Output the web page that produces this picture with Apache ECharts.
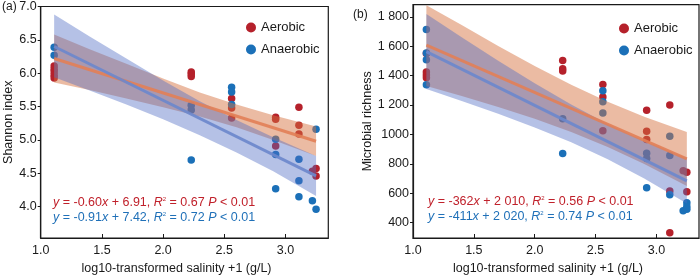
<!DOCTYPE html>
<html><head><meta charset="utf-8">
<script src="https://cdn.jsdelivr.net/npm/echarts@6/dist/echarts.min.js"></script>
<style>html,body{margin:0;padding:0;background:#fff}#c{width:700px;height:280px}</style>
</head><body><div id="c"></div>
<script>
// ---- tick labels ----
const xTicks = [1.0, 1.5, 2.0, 2.5, 3.0];
const shannonTicks = [4.0, 4.5, 5.0, 5.5, 6.0, 6.5, 7.0];
const richTicks = [400, 600, 800, 1000, 1200, 1400, 1600, 1800];
const richTickLabels = ['400', '600', '800', '1000', '1 200', '1 400', '1 600', '1 800'];
const seriesNames = ['Aerobic', 'Anaerobic'];

// ---- panel (a) Shannon index: points [salinity, value] ----
const shannonAerobic = [
  [1.11,6.11],[1.11,6.06],[1.11,6.02],[1.11,5.97],[1.11,5.93],
  [2.23,6.02],[2.23,5.99],[2.23,5.95],
  [2.56,5.62],[2.56,5.48],[2.56,5.33],
  [2.92,5.34],[2.92,5.31],[2.92,4.91],
  [3.11,5.49],[3.11,5.22],[3.11,5.09],
  [3.22,4.53],
  [3.25,4.57],[3.25,4.46]
];
const shannonAnaerobic = [
  [1.11,6.39],[1.11,6.27],
  [2.23,5.52],[2.23,5.45],[2.23,4.70],
  [2.56,5.79],[2.56,5.72],[2.56,5.53],
  [2.92,5.01],[2.92,4.78],[2.92,4.27],
  [3.11,4.71],[3.11,4.39],[3.11,4.15],
  [3.22,4.09],
  [3.25,5.16],[3.25,3.96]
];
const shannonAerobicFit = [[1.11,6.22],[3.25,4.98]];
const shannonAnaerobicFit = [[1.11,6.40],[3.25,4.46]];

// ---- panel (b) Microbial richness ----
const richAerobic = [
  [1.11,1550],[1.11,1425],[1.11,1405],[1.11,1385],
  [2.23,1504],[2.23,1447],[2.23,1431],
  [2.56,1340],[2.56,1255],[2.56,1025],
  [2.92,1164],[2.92,1021],[2.92,965],
  [3.11,1200],[3.11,615],[3.11,330],
  [3.22,752],
  [3.25,742],[3.25,610]
];
const richAnaerobic = [
  [1.11,1715],[1.11,1555],[1.11,1508],[1.11,1338],
  [2.23,1106],[2.23,870],
  [2.56,1298],[2.56,1222],[2.56,1145],
  [2.92,872],[2.92,836],[2.92,637],
  [3.11,988],[3.11,856],[3.11,590],
  [3.22,480],
  [3.25,535],[3.25,510],[3.25,490]
];
const richAerobicFit = [[1.11,1608],[3.25,833]];
const richAnaerobicFit = [[1.11,1564],[3.25,684]];

// ---- confidence bands ----
const bandX = [1.11, 1.4, 1.7, 2.0, 2.3, 2.6, 2.9, 3.25];
const shannonAerobicLo = [5.86,5.75,5.62,5.49,5.35,5.19,5.00,4.76];
const shannonAerobicHi = [6.58,6.36,6.14,5.92,5.71,5.53,5.37,5.20];
const shannonAnaerobicLo = [5.94,5.74,5.53,5.31,5.07,4.81,4.53,4.16];
const shannonAnaerobicHi = [6.88,6.55,6.22,5.89,5.58,5.30,5.04,4.76];
const richAerobicLo = [1330,1261,1186,1106,1016,915,799,649];
const richAerobicHi = [1880,1745,1602,1466,1338,1223,1121,1017];
const richAnaerobicLo = [1309,1228,1140,1047,947,831,700,529];
const richAnaerobicHi = [1819,1662,1502,1349,1203,1071,956,839];

// ---- styling ----
const FONT = "'Liberation Sans', Arial, Helvetica, sans-serif";
const RED = '#b5212b', BLUE = '#1b70b8';
const RED_TXT = '#c0212b', BLUE_TXT = '#1f70b8';
const ORANGE_BAND = 'rgba(214,112,62,0.48)', BLUE_BAND = 'rgba(78,108,196,0.42)';
const ORANGE_LINE = 'rgba(226,128,86,0.9)', BLUE_LINE = 'rgba(108,136,204,0.92)';

function bandSeries(name, xi, lo, hi, color) {
  const data = bandX.map((x, i) => [x, lo[i], hi[i]]);
  return {
    type: 'custom', name: name, xAxisIndex: xi, yAxisIndex: xi, z: 3, silent: true,
    encode: {x: 0, y: [1, 2]},
    data: data,
    renderItem: function (params, api) {
      if (params.dataIndex !== 0) return null;
      const pts = [];
      for (let i = 0; i < data.length; i++) pts.push(api.coord([data[i][0], data[i][2]]));
      for (let i = data.length - 1; i >= 0; i--) pts.push(api.coord([data[i][0], data[i][1]]));
      return {type: 'polygon', shape: {points: pts}, style: {fill: color}};
    }
  };
}
function scatterSeries(name, xi, data, color) {
  return {type: 'scatter', name: name, xAxisIndex: xi, yAxisIndex: xi, z: 2,
    symbolSize: 7.5, data: data, itemStyle: {color: color, opacity: 1}};
}
function fitSeries(name, xi, data, color) {
  return {type: 'line', name: name, xAxisIndex: xi, yAxisIndex: xi, z: 4,
    data: data, symbol: 'none', lineStyle: {color: color, width: 3}, silent: true};
}
function xAxisDef(gi) {
  return {
    type: 'value', gridIndex: gi, min: 1.0, max: 3.35,
    axisLine: {show: true, onZero: false, lineStyle: {color: '#1a1a1a', width: 1.2}},
    axisTick: {show: true, inside: true, length: 4, customValues: xTicks, lineStyle: {color: '#1a1a1a'}},
    axisLabel: {customValues: xTicks, formatter: v => v.toFixed(1), color: '#1a1a1a',
      fontSize: 12.5, fontFamily: FONT, margin: 6},
    splitLine: {show: false},
    name: 'log10-transformed salinity +1 (g/L)', nameLocation: 'middle', nameGap: 24,
    nameTextStyle: {color: '#1a1a1a', fontSize: 12.5, fontFamily: FONT, padding: [0, 16, 0, 0]}
  };
}

const option = {
  animation: false,
  backgroundColor: '#fff',
  grid: [
    {left: 40.7, top: 5, width: 287.6, height: 240, show: true, borderColor: '#1a1a1a', borderWidth: 1.2, backgroundColor: 'transparent'},
    {left: 413, top: 4.7, width: 286, height: 241.3, show: true, borderColor: '#1a1a1a', borderWidth: 1.2, backgroundColor: 'transparent'}
  ],
  xAxis: [xAxisDef(0), xAxisDef(1)],
  yAxis: [
    {type: 'value', gridIndex: 0, min: 3.53, max: 7.0,
      axisLine: {show: true, lineStyle: {color: '#1a1a1a', width: 1.2}},
      axisTick: {show: true, length: 3, customValues: shannonTicks, lineStyle: {color: '#1a1a1a'}},
      axisLabel: {customValues: shannonTicks, formatter: v => v.toFixed(1), color: '#1a1a1a',
        fontSize: 12.5, fontFamily: FONT, margin: 4},
      splitLine: {show: false},
      name: 'Shannon index', nameLocation: 'middle', nameGap: 24,
      nameTextStyle: {color: '#1a1a1a', fontSize: 12.5, fontFamily: FONT}},
    {type: 'value', gridIndex: 1, min: 295, max: 1883,
      axisLine: {show: true, lineStyle: {color: '#1a1a1a', width: 1.2}},
      axisTick: {show: true, length: 3, customValues: richTicks, lineStyle: {color: '#1a1a1a'}},
      axisLabel: {customValues: richTicks, formatter: v => richTickLabels[richTicks.indexOf(v)] || '',
        color: '#1a1a1a', fontSize: 12.5, fontFamily: FONT, margin: 4},
      splitLine: {show: false},
      name: 'Microbial richness', nameLocation: 'middle', nameGap: 38,
      nameTextStyle: {color: '#1a1a1a', fontSize: 12.5, fontFamily: FONT}}
  ],
  legend: [
    {data: seriesNames, orient: 'vertical', left: 241, top: 16, itemGap: 9, itemWidth: 10, itemHeight: 10,
      icon: 'circle', textStyle: {color: '#1a1a1a', fontSize: 13, fontFamily: FONT}, selectedMode: false},
    {data: seriesNames, orient: 'vertical', left: 614, top: 17, itemGap: 9, itemWidth: 10, itemHeight: 10,
      icon: 'circle', textStyle: {color: '#1a1a1a', fontSize: 13, fontFamily: FONT}, selectedMode: false}
  ],
  graphic: [
    {type: 'text', x: 2, y: 7, style: {text: '(a)', fill: '#1a1a1a', fontSize: 12, fontFamily: FONT, verticalAlign: 'middle'}},
    {type: 'text', x: 353, y: 15, style: {text: '(b)', fill: '#1a1a1a', fontSize: 12, fontFamily: FONT, verticalAlign: 'middle'}}
  ],
  series: [
    scatterSeries('Aerobic', 0, shannonAerobic, RED),
    scatterSeries('Anaerobic', 0, shannonAnaerobic, BLUE),
    bandSeries('bandA0', 0, shannonAerobicLo, shannonAerobicHi, ORANGE_BAND),
    bandSeries('bandB0', 0, shannonAnaerobicLo, shannonAnaerobicHi, BLUE_BAND),
    fitSeries('fitA0', 0, shannonAerobicFit, ORANGE_LINE),
    fitSeries('fitB0', 0, shannonAnaerobicFit, BLUE_LINE),
    scatterSeries('Aerobic', 1, richAerobic, RED),
    scatterSeries('Anaerobic', 1, richAnaerobic, BLUE),
    bandSeries('bandA1', 1, richAerobicLo, richAerobicHi, ORANGE_BAND),
    bandSeries('bandB1', 1, richAnaerobicLo, richAnaerobicHi, BLUE_BAND),
    fitSeries('fitA1', 1, richAerobicFit, ORANGE_LINE),
    fitSeries('fitB1', 1, richAnaerobicFit, BLUE_LINE)
  ]
};

// equation texts
function eqText(x, y, a, b, r2, color) {
  return {type: 'text', x: x, y: y, z: 10, style: {
    text: '{i|y} = ' + a + '{i|x} + ' + b + ', {i|R}{s|2} = ' + r2 + ' {i|P} < 0.01',
    fill: color, fontSize: 12.5, fontFamily: FONT, verticalAlign: 'middle',
    rich: {
      i: {fontStyle: 'italic', fill: color, fontSize: 12.5, fontFamily: FONT},
      s: {fontSize: 6, fill: color, fontFamily: FONT, verticalAlign: 'top', padding: [0, 0, 6, 0]}
    }
  }};
}
option.graphic.push(eqText(53, 203, '-0.60', '6.91', '0.67', RED_TXT));
option.graphic.push(eqText(53, 218, '-0.91', '7.42', '0.72', BLUE_TXT));
option.graphic.push(eqText(428, 202, '-362', '2 010', '0.56', RED_TXT));
option.graphic.push(eqText(428, 217, '-411', '2 020', '0.74', BLUE_TXT));

const chart = echarts.init(document.getElementById('c'), null, {renderer: 'canvas'});
chart.setOption(option);
</script></body></html>
